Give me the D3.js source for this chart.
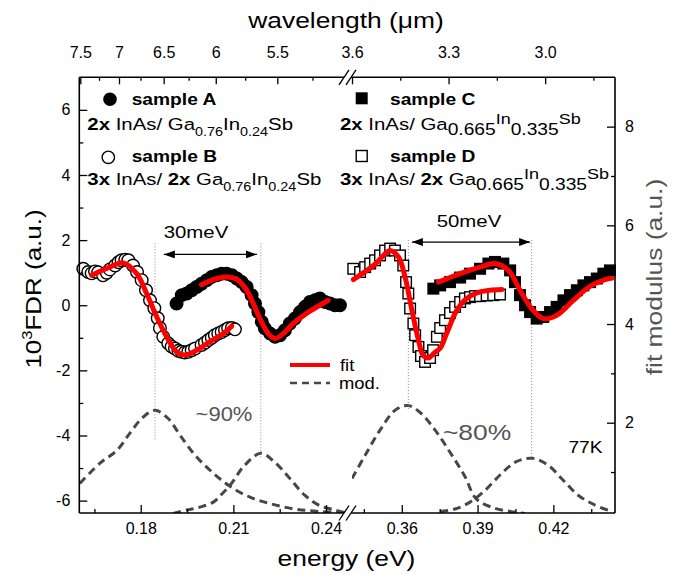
<!DOCTYPE html>
<html>
<head>
<meta charset="utf-8">
<script src="https://cdn.jsdelivr.net/npm/d3@7"></script>
<style>
  body { margin: 0; background: #fff; }
</style>
</head>
<body>
<div id="root"></div>
<script>
const FONT = "'Liberation Sans', Arial, sans-serif";

// axis domains (broken energy axis: two pieces)
const energyDomL = [0.1601, 0.2468];
const energyDomR = [0.3403, 0.4444];
const fdrDom = [-6.38, 7.0];
const modDom = [0.17, 9.0];
const lambdaDomL = [7.514, 5.026];
const lambdaDomR = [3.6, 2.783];

// ticks
const xTicksL = [0.18, 0.21, 0.24], xMinorL = [0.165, 0.195, 0.225];
const xTicksR = [0.36, 0.39, 0.42], xMinorR = [0.345, 0.375, 0.405, 0.435];
const lamTicksL = [7.5, 7, 6.5, 6, 5.5], lamMinorL = [7.25, 6.75, 6.25, 5.75, 5.25];
const lamTicksR = [3.6, 3.3, 3.0], lamMinorR = [3.45, 3.15, 2.85];
const fdrTicks = [-6, -4, -2, 0, 2, 4, 6], fdrMinor = [-5, -3, -1, 1, 3, 5];
const modTicks = [2, 4, 6, 8], modMinor = [1, 3, 5, 7];

// measured FDR, [energy eV, 10^3 FDR]
const sampleA = [[0.1916,0.05],[0.1933,0.31],[0.1949,0.36],[0.1965,0.46],[0.1981,0.56],[0.1997,0.66],[0.2014,0.77],[0.2030,0.87],[0.2046,0.92],[0.2062,0.97],[0.2078,0.97],[0.2095,0.92],[0.2111,0.82],[0.2127,0.71],[0.2143,0.56],[0.2159,0.31],[0.2170,0.05],[0.2181,-0.21],[0.2192,-0.51],[0.2202,-0.71],[0.2219,-0.87],[0.2235,-0.97],[0.2251,-0.92],[0.2267,-0.77],[0.2283,-0.56],[0.2299,-0.41],[0.2316,-0.21],[0.2332,-0.05],[0.2348,0.10],[0.2364,0.15],[0.2380,0.21],[0.2397,0.10],[0.2413,0.05],[0.2429,0.00],[0.2445,0.00]];
const sampleB = [[0.1614,1.12],[0.1630,1.02],[0.1641,0.98],[0.1652,1.04],[0.1662,1.01],[0.1678,0.92],[0.1690,1.00],[0.1700,1.10],[0.1717,1.22],[0.1728,1.32],[0.1738,1.38],[0.1750,1.40],[0.1760,1.38],[0.1775,1.22],[0.1788,1.02],[0.1803,0.77],[0.1817,0.46],[0.1830,0.15],[0.1844,-0.09],[0.1855,-0.40],[0.1862,-0.70],[0.1873,-0.97],[0.1889,-1.17],[0.1900,-1.27],[0.1911,-1.33],[0.1922,-1.40],[0.1932,-1.43],[0.1943,-1.45],[0.1954,-1.43],[0.1965,-1.38],[0.1976,-1.33],[0.1997,-1.22],[0.2008,-1.15],[0.2019,-1.07],[0.2030,-1.00],[0.2040,-0.92],[0.2051,-0.87],[0.2062,-0.82],[0.2073,-0.76],[0.2083,-0.71],[0.2095,-0.70],[0.2105,-0.74]];
const sampleC = [[0.3725,0.51],[0.3752,0.61],[0.3791,0.71],[0.3831,0.85],[0.3870,0.97],[0.3910,1.12],[0.3943,1.28],[0.3969,1.33],[0.4002,1.28],[0.4029,1.07],[0.4048,0.71],[0.4068,0.31],[0.4088,0.00],[0.4108,-0.21],[0.4134,-0.41],[0.4160,-0.36],[0.4187,-0.21],[0.4213,-0.05],[0.4240,0.15],[0.4266,0.31],[0.4293,0.46],[0.4319,0.61],[0.4345,0.71],[0.4372,0.82],[0.4398,0.97],[0.4424,1.07]];
const sampleD = [[0.3408,1.12],[0.3435,1.02],[0.3455,1.17],[0.3475,1.28],[0.3494,1.38],[0.3514,1.53],[0.3534,1.68],[0.3554,1.74],[0.3573,1.68],[0.3593,1.53],[0.3606,1.22],[0.3617,0.71],[0.3626,0.36],[0.3633,-0.10],[0.3646,-0.56],[0.3653,-0.92],[0.3666,-1.28],[0.3676,-1.56],[0.3692,-1.74],[0.3712,-1.62],[0.3724,-1.38],[0.3739,-0.97],[0.3752,-0.70],[0.3771,-0.46],[0.3791,-0.24],[0.3811,-0.05],[0.3831,0.10],[0.3850,0.21],[0.3870,0.25],[0.3890,0.28],[0.3910,0.28],[0.3936,0.30],[0.3962,0.31],[0.3989,0.33]];

// fits (red)
const fitA = [[0.1997,0.63],[0.2040,0.80],[0.2078,0.87],[0.2111,0.80],[0.2143,0.46],[0.2164,0.06],[0.2186,-0.41],[0.2213,-0.87],[0.2235,-1.02],[0.2262,-0.87],[0.2294,-0.56],[0.2337,-0.25],[0.2380,0.00],[0.2407,0.15]];
const fitB = [[0.1641,0.92],[0.1700,1.17],[0.1743,1.30],[0.1787,0.97],[0.1819,0.36],[0.1852,-0.36],[0.1884,-0.97],[0.1916,-1.43],[0.1943,-1.53],[0.1981,-1.38],[0.2024,-1.12],[0.2067,-0.87],[0.2095,-0.64]];
const fitC = [[0.3745,0.71],[0.3831,0.97],[0.3910,1.17],[0.3969,1.28],[0.4022,1.07],[0.4068,0.46],[0.4114,-0.10],[0.4160,-0.41],[0.4213,-0.31],[0.4279,0.15],[0.4345,0.58],[0.4411,0.80],[0.4431,0.83]];
const fitD = [[0.3408,0.79],[0.3488,1.22],[0.3541,1.63],[0.3554,1.68],[0.3587,1.48],[0.3613,0.87],[0.3640,-0.15],[0.3666,-1.07],[0.3684,-1.53],[0.3704,-1.62],[0.3732,-1.44],[0.3752,-1.32],[0.3778,-0.86],[0.3818,-0.15],[0.3857,0.21],[0.3910,0.41],[0.3949,0.46],[0.3996,0.48]];

// fit modulus (right axis)
const mod1 = [[0.1603,0.77],[0.1668,1.18],[0.1723,1.44],[0.1765,1.79],[0.1804,2.09],[0.1846,2.25],[0.1888,2.09],[0.1927,1.75],[0.1976,1.34],[0.2031,1.00],[0.2089,0.71],[0.2154,0.49],[0.2225,0.35],[0.2299,0.25],[0.2380,0.20],[0.2461,0.18]];
const mod2 = [[0.1905,0.16],[0.1949,0.23],[0.1992,0.29],[0.2035,0.39],[0.2062,0.55],[0.2089,0.73],[0.2137,1.14],[0.2189,1.38],[0.2234,1.20],[0.2283,0.87],[0.2331,0.53],[0.2380,0.32],[0.2429,0.23],[0.2461,0.18]];
const mod3 = [[0.3403,0.87],[0.3455,1.34],[0.3514,1.85],[0.3573,2.25],[0.3625,2.35],[0.3672,2.21],[0.3732,1.85],[0.3791,1.40],[0.3850,0.91],[0.3894,0.46],[0.3960,0.28],[0.4030,0.20],[0.4088,0.16]];
const mod4 = [[0.3752,0.20],[0.3811,0.25],[0.3870,0.39],[0.3930,0.63],[0.3989,0.94],[0.4049,1.20],[0.4116,1.28],[0.4179,1.14],[0.4238,0.84],[0.4298,0.53],[0.4365,0.33],[0.4432,0.20]];

// transition markers: energy, top and bottom in FDR units
const markersL = [[0.1846, 1.9, -4.13], [0.2189, 1.9, -4.68]];
const markersR = [[0.3626, 2.0, -3.2], [0.4114, 2.0, -4.7]];
const arrowL = [0.1875, 0.2176, 1.56];
const arrowR = [0.3640, 0.4108, 1.94];

const W = 686, H = 575;
const M = { left: 79.3, right: 615, top: 77.3, bottom: 513 };
const segL = [M.left, 347], segR = [352, M.right];
const cutL = 344, cutR = 351;

const svg = d3.select("#root").append("svg").attr("width", W).attr("height", H);
const defs = svg.append("defs");

const xL = d3.scaleLinear().domain(energyDomL).range(segL);
const xR = d3.scaleLinear().domain(energyDomR).range(segR);
const yF = d3.scaleLinear().domain(fdrDom).range([M.bottom, M.top]);
const yM = d3.scaleLinear().domain(modDom).range([M.bottom, M.top]);
const tL = d3.scaleLinear().domain(lambdaDomL.map(l => 1 / l)).range(segL);
const tR = d3.scaleLinear().domain(lambdaDomR).range(segR);

[["clipL", segL], ["clipR", segR]].forEach(([id, s]) => {
  defs.append("clipPath").attr("id", id).append("rect")
    .attr("x", s[0]).attr("y", M.top).attr("width", s[1] - s[0]).attr("height", M.bottom - M.top);
});

defs.append("marker").attr("id", "ah")
  .attr("viewBox", "0 0 11 8").attr("refX", 11).attr("refY", 4)
  .attr("markerWidth", 11).attr("markerHeight", 8)
  .attr("markerUnits", "userSpaceOnUse").attr("orient", "auto-start-reverse")
  .append("path").attr("d", "M0,0L11,4L0,8Z").attr("fill", "#000");

const smooth = (x, y) => d3.line().x(d => x(d[0])).y(d => y(d[1])).curve(d3.curveCatmullRom.alpha(0.5));

// modulus curves
[[mod1, xL, "clipL"], [mod2, xL, "clipL"], [mod3, xR, "clipR"], [mod4, xR, "clipR"]].forEach(([d, x, c]) => {
  svg.append("path").attr("d", smooth(x, yM)(d)).attr("clip-path", `url(#${c})`)
    .attr("fill", "none").attr("stroke", "#474747").attr("stroke-width", 3).attr("stroke-dasharray", "8,5");
});

// dotted transition lines and arrows
[[markersL, xL], [markersR, xR]].forEach(([list, x]) => {
  svg.append("g").selectAll("line").data(list).join("line")
    .attr("x1", d => x(d[0])).attr("x2", d => x(d[0]))
    .attr("y1", d => yF(d[1])).attr("y2", d => yF(d[2]))
    .attr("stroke", "#8a8a8a").attr("stroke-width", 1).attr("stroke-dasharray", "1,2");
});
[[arrowL, xL], [arrowR, xR]].forEach(([a, x]) => {
  svg.append("line").attr("x1", x(a[0])).attr("x2", x(a[1])).attr("y1", yF(a[2])).attr("y2", yF(a[2]))
    .attr("stroke", "#000").attr("stroke-width", 1.2)
    .attr("marker-start", "url(#ah)").attr("marker-end", "url(#ah)");
});

// data points and fits
const circles = (data, x, filled) => svg.append("g").selectAll("circle").data(data).join("circle")
  .attr("cx", d => x(d[0])).attr("cy", d => yF(d[1])).attr("r", 6.3)
  .attr("fill", filled ? "#000" : "#fff").attr("stroke", "#000").attr("stroke-width", 1.4);
const squares = (data, x, filled) => svg.append("g").selectAll("rect").data(data).join("rect")
  .attr("x", d => x(d[0]) - 5.3).attr("y", d => yF(d[1]) - 5.3).attr("width", 10.6).attr("height", 10.6)
  .attr("fill", filled ? "#000" : "#fff").attr("stroke", "#000").attr("stroke-width", 1.4);
const fit = (data, x) => svg.append("path").attr("d", smooth(x, yF)(data))
  .attr("fill", "none").attr("stroke", "#ff0000").attr("stroke-width", 5).attr("stroke-linecap", "round");

circles(sampleB, xL, false); fit(fitB, xL);
circles(sampleA, xL, true); fit(fitA, xL);
squares(sampleD, xR, false); fit(fitD, xR);
squares(sampleC, xR, true); fit(fitC, xR);

// axes
const axis = (gen, tx, ty, size, pad, fmt) => {
  const g = svg.append("g").attr("transform", `translate(${tx},${ty})`)
    .call(gen.tickSize(size).tickPadding(pad).tickFormat(fmt));
  g.select(".domain").remove();
  g.attr("font-family", FONT).attr("font-size", 16);
  g.selectAll("line").attr("stroke-width", 1.3);
  g.selectAll("text").attr("fill", "#000");
  return g;
};
const none = () => "";
const lamFmt = d => String(Math.round(100 / d) / 100);

axis(d3.axisLeft(yF).tickValues(fdrTicks), M.left, 0, -8, 9, d => String(d));
axis(d3.axisLeft(yF).tickValues(fdrMinor), M.left, 0, -4, 9, none);
axis(d3.axisRight(yM).tickValues(modTicks), M.right, 0, -8, 10, d => String(d));
axis(d3.axisRight(yM).tickValues(modMinor), M.right, 0, -4, 10, none);
axis(d3.axisBottom(xL).tickValues(xTicksL), 0, M.bottom, -8, 10, d3.format(".2f"));
axis(d3.axisBottom(xL).tickValues(xMinorL), 0, M.bottom, -4, 10, none);
axis(d3.axisBottom(xR).tickValues(xTicksR), 0, M.bottom, -8, 10, d3.format(".2f"));
axis(d3.axisBottom(xR).tickValues(xMinorR), 0, M.bottom, -4, 10, none);
axis(d3.axisTop(tL).tickValues(lamTicksL.map(l => 1 / l)), 0, M.top, -7, 19, lamFmt);
axis(d3.axisTop(tL).tickValues(lamMinorL.map(l => 1 / l)), 0, M.top, -3.5, 19, none);
axis(d3.axisTop(tR).tickValues(lamTicksR), 0, M.top, -7, 19, d3.format(".1f"));
axis(d3.axisTop(tR).tickValues(lamMinorR), 0, M.top, -3.5, 19, none);

// frame with break
const frame = svg.append("g").attr("stroke", "#000").attr("stroke-width", 1.6).attr("fill", "none");
[[M.left, M.top, M.left, M.bottom], [M.right, M.top, M.right, M.bottom],
 [M.left, M.top, cutL, M.top], [cutR, M.top, M.right, M.top],
 [M.left, M.bottom, cutL, M.bottom], [cutR, M.bottom, M.right, M.bottom]
].forEach(s => frame.append("line").attr("x1", s[0]).attr("y1", s[1]).attr("x2", s[2]).attr("y2", s[3]));
[M.top, M.bottom].forEach(y => [cutL, cutR].forEach(x => {
  frame.append("line").attr("x1", x - 5).attr("y1", y + 7.5).attr("x2", x + 5).attr("y2", y - 7.5).attr("stroke-width", 1.3);
}));

// text helpers
const label = (x, y, sx, size, anchor, rot) => svg.append("text")
  .attr("transform", `translate(${x},${y})${rot ? " rotate(" + rot + ")" : ""} scale(${sx},1)`)
  .attr("font-family", FONT).attr("font-size", size).attr("text-anchor", anchor || "start");
const rich = (sel, parts) => parts.forEach(p => {
  const t = sel.append("tspan").text(p.t);
  if (p.b) t.attr("font-weight", "bold");
  if (p.s) t.attr("font-size", p.s);
  if (p.dy) t.attr("dy", p.dy);
});

label(346, 28, 1.2, 22, "middle").text("wavelength (\u03bcm)");
label(346.5, 566, 1.2, 22, "middle").text("energy (eV)");
rich(label(41, 289, 1.18, 22, "middle", -90), [{ t: "10" }, { t: "3", s: 14, dy: -9 }, { t: "FDR (a.u.)", dy: 9 }]);
label(662, 277, 1.2, 22, "middle", -90).attr("fill", "#555").text("fit modulus (a.u.)");

// legend of samples
svg.append("circle").attr("cx", 110).attr("cy", 99.3).attr("r", 6.8).attr("fill", "#000");
svg.append("circle").attr("cx", 108.3).attr("cy", 157.3).attr("r", 6.2).attr("fill", "#fff").attr("stroke", "#000").attr("stroke-width", 1.4);
svg.append("rect").attr("x", 355.7).attr("y", 92.3).attr("width", 12).attr("height", 12).attr("fill", "#000");
svg.append("rect").attr("x", 356.2).attr("y", 150.5).attr("width", 11).attr("height", 11).attr("fill", "#fff").attr("stroke", "#000").attr("stroke-width", 1.4);

label(131.7, 105, 1.2, 16).attr("font-weight", "bold").text("sample A");
label(131.7, 162, 1.2, 16).attr("font-weight", "bold").text("sample B");
label(390, 104.5, 1.2, 16).attr("font-weight", "bold").text("sample C");
label(390, 162, 1.2, 16).attr("font-weight", "bold").text("sample D");

rich(label(87.3, 130, 1.2, 17), [{ t: "2x", b: 1 }, { t: " InAs/ Ga" }, { t: "0.76", s: 12, dy: 6 }, { t: "In", s: 17, dy: -6 }, { t: "0.24", s: 12, dy: 6 }, { t: "Sb", s: 17, dy: -6 }]);
rich(label(87.3, 185, 1.2, 17), [{ t: "3x", b: 1 }, { t: " InAs/ " }, { t: "2x", b: 1 }, { t: " Ga" }, { t: "0.76", s: 12, dy: 6 }, { t: "In", s: 17, dy: -6 }, { t: "0.24", s: 12, dy: 6 }, { t: "Sb", s: 17, dy: -6 }]);
rich(label(340, 130, 1.2, 17), [{ t: "2x", b: 1 }, { t: " InAs/ Ga" }, { t: "0.665", s: 16, dy: 5 }, { t: "In", s: 15, dy: -11 }, { t: "0.335", s: 16, dy: 11 }, { t: "Sb", s: 15, dy: -11 }]);
rich(label(340, 185, 1.2, 17), [{ t: "3x", b: 1 }, { t: " InAs/ " }, { t: "2x", b: 1 }, { t: " Ga" }, { t: "0.665", s: 16, dy: 5 }, { t: "In", s: 15, dy: -11 }, { t: "0.335", s: 16, dy: 11 }, { t: "Sb", s: 15, dy: -11 }]);

// annotations
label(196, 238, 1.2, 17, "middle").text("30meV");
label(469, 226.7, 1.2, 17, "middle").text("50meV");
label(224, 421, 1.1, 20, "middle").attr("fill", "#555").text("~90%");
label(477, 440, 1.2, 22, "middle").attr("fill", "#555").text("~80%");
label(585.5, 453, 1.2, 16, "middle").text("77K");

// fit / mod legend
svg.append("line").attr("x1", 290).attr("x2", 330).attr("y1", 365).attr("y2", 365).attr("stroke", "#ff0000").attr("stroke-width", 4);
svg.append("line").attr("x1", 290).attr("x2", 330).attr("y1", 383).attr("y2", 383).attr("stroke", "#474747").attr("stroke-width", 2.5).attr("stroke-dasharray", "7,5");
label(340, 370.5, 1.15, 16).text("fit");
label(339, 389, 1.15, 16).text("mod.");
</script>
</body>
</html>
